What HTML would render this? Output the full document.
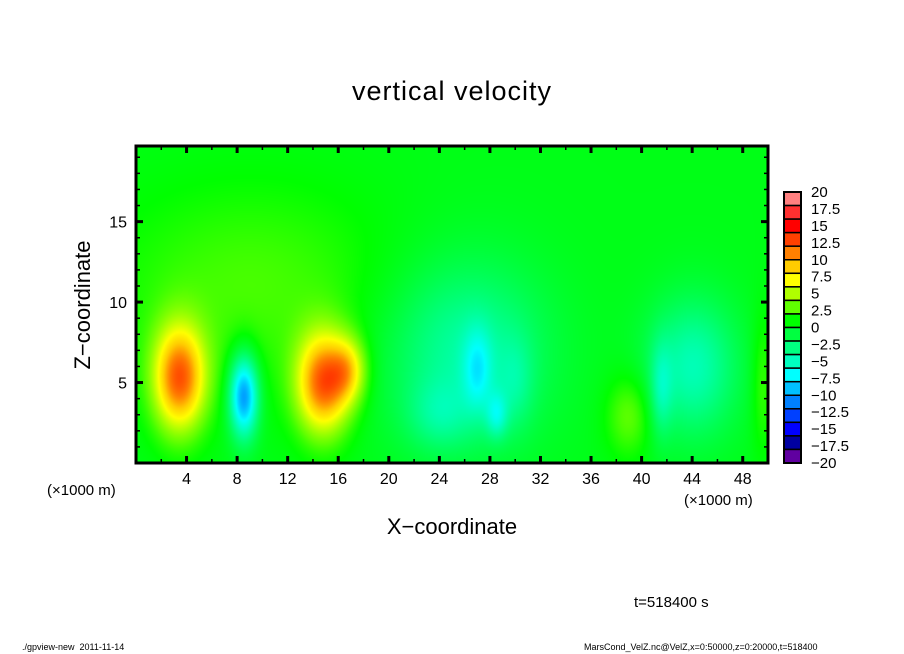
<!DOCTYPE html>
<html><head><meta charset="utf-8"><style>
body{margin:0;background:#fff;}
#wrap{position:relative;width:904px;height:654px;overflow:hidden;font-family:"Liberation Sans",sans-serif;color:#000;}
.t{position:absolute;white-space:nowrap;}
</style></head><body>
<div id="wrap">
<div class="t" style="left:0;width:904px;text-align:center;top:76px;font-size:27px;letter-spacing:1px;">vertical velocity</div>
<canvas id="fld" width="632" height="317" style="position:absolute;left:136px;top:146px;"></canvas>
<svg id="ax" width="904" height="654" style="position:absolute;left:0;top:0;"></svg>
<div class="t" style="left:0;width:904px;text-align:center;top:514px;font-size:22px;">X−coordinate</div>
<div class="t" style="left:83px;top:305px;font-size:22px;transform:translate(-50%,-50%) rotate(-90deg);">Z−coordinate</div>
<div class="t" style="left:47px;top:482px;font-size:15px;">(×1000 m)</div>
<div class="t" style="left:684px;top:492px;font-size:15px;">(×1000 m)</div>
<div class="t" style="left:634px;top:594px;font-size:15px;">t=518400 s</div>
<div class="t" style="left:22px;top:642px;font-size:9px;">./gpview-new&nbsp;&nbsp;2011-11-14</div>
<div class="t" style="left:584px;top:642px;font-size:9px;">MarsCond_VelZ.nc@VelZ,x=0:50000,z=0:20000,t=518400</div>
</div>
<script>
const xTicks=[4,8,12,16,20,24,28,32,36,40,44,48];
const zTicks=[5,10,15];
const levels=[20,18,16,14,12,10,8,6,4,2,0,-2,-4,-6,-8,-10,-12,-14,-16,-18,-20];
const levelColors=["#ff8080","#ff3030","#ff0000","#ff4000","#ff8000","#ffcc00","#ffff00","#b0ff00","#60ff00","#00ff00","#00ff40","#00ff80","#00ffc0","#00ffff","#00c0ff","#0080ff","#0040ff","#0000ff","#0000a0","#6000a0"];
const cbLabels=["20","17.5","15","12.5","10","7.5","5","2.5","0","−2.5","−5","−7.5","−10","−12.5","−15","−17.5","−20"];
const baseValue=0.3;
const blobX=[3.4,8.5,14.8,16.8,9,26,27,28.5,39,44,41.5,49.5,24,30];
const blobZ=[5.3,4.2,5.0,5.8,11,7,5.8,3.0,3,6,4.5,5,3,5];
const blobAmp=[11.5,-11,11.5,5.5,2.2,-4.5,-4,-4,3,-5,-3,2,-2.5,-2];
const blobSx=[1.45,0.8,1.5,1.0,8,4.5,0.8,0.6,1.3,2.5,0.6,0.6,1.8,1.0];
const blobSz=[2.3,1.8,2.2,1.4,4.5,4,1.8,1.0,1.8,3,2,3,1.5,2];

const X0=136,X1=768,Y0=146,Y1=463,XMAX=50,ZMAX=19.7;
const sx=v=>X0+(v/XMAX)*(X1-X0);
const sy=v=>Y1-(v/ZMAX)*(Y1-Y0);
function hex(c){return [parseInt(c.substr(1,2),16),parseInt(c.substr(3,2),16),parseInt(c.substr(5,2),16)];}
const lc=levelColors.map(hex);
function color(v){
  let pos=(20-v)/2-0.5;
  if(pos<=0)return lc[0]; if(pos>=lc.length-1)return lc[lc.length-1];
  const i=Math.floor(pos),f=pos-i;
  return [0,1,2].map(k=>lc[i][k]*(1-f)+lc[i+1][k]*f);
}
function field(x,z){
  let v=baseValue;
  for(let i=0;i<blobX.length;i++){
    const dx=(x-blobX[i])/blobSx[i],dz=(z-blobZ[i])/blobSz[i];
    v+=blobAmp[i]*Math.exp(-0.5*(dx*dx+dz*dz));
  }
  return v;
}
const cv=document.getElementById('fld'),ctx=cv.getContext('2d');
const W=cv.width,H=cv.height,img=ctx.createImageData(W,H);
for(let j=0;j<H;j++){const z=(H-j)/H*ZMAX;
  for(let i=0;i<W;i++){const x=i/W*XMAX;const c=color(field(x,z));const p=(j*W+i)*4;
    img.data[p]=c[0];img.data[p+1]=c[1];img.data[p+2]=c[2];img.data[p+3]=255;}}
ctx.putImageData(img,0,0);

const svg=document.getElementById('ax'),NS='http://www.w3.org/2000/svg';
function mk(t,a,name){const e=document.createElementNS(NS,t);for(const k in a)e.setAttribute(k,a[k]);
  
  
  svg.appendChild(e);return e;}
mk('rect',{x:X0,y:Y0,width:X1-X0,height:Y1-Y0,fill:'none',stroke:'#000','stroke-width':3},'plot-frame');
for(let v=2;v<XMAX;v+=2){const maj=xTicks.includes(v),L=maj?7:4,x=sx(v);
  mk('line',{x1:x,x2:x,y1:Y1,y2:Y1-L,stroke:'#000','stroke-width':maj?3:1.5},'x-tick');
  mk('line',{x1:x,x2:x,y1:Y0,y2:Y0+L,stroke:'#000','stroke-width':maj?3:1.5},'x-tick-top');}
for(let v=1;v<ZMAX;v+=1){const maj=zTicks.includes(v),L=maj?7:4,y=sy(v);
  mk('line',{x1:X0,x2:X0+L,y1:y,y2:y,stroke:'#000','stroke-width':maj?3:1.5},'z-tick');
  mk('line',{x1:X1,x2:X1-L,y1:y,y2:y,stroke:'#000','stroke-width':maj?3:1.5},'z-tick-right');}
xTicks.forEach(v=>{const t=mk('text',{x:sx(v),y:484,'text-anchor':'middle','font-size':16,'font-family':'Liberation Sans, sans-serif'},'x-tick-label');t.textContent=v;});
zTicks.forEach(v=>{const t=mk('text',{x:127,y:sy(v)+6,'text-anchor':'end','font-size':16,'font-family':'Liberation Sans, sans-serif'},'z-tick-label');t.textContent=v;});
const CX=784,CW=17,CY0=192,CY1=463,ch=(CY1-CY0)/levelColors.length;
levelColors.forEach((c,i)=>{mk('rect',{x:CX,y:CY0+i*ch,width:CW,height:ch,fill:c,stroke:'#000','stroke-width':1.5},'colorbar-cell');});
mk('rect',{x:CX,y:CY0,width:CW,height:CY1-CY0,fill:'none',stroke:'#000','stroke-width':2},'colorbar-frame');
cbLabels.forEach((s,i)=>{const y=CY0+i*(CY1-CY0)/(cbLabels.length-1);
  const t=mk('text',{x:811,y:y+5,'font-size':15,'font-family':'Liberation Sans, sans-serif'},'colorbar-label');t.textContent=s;});
</script>
</body></html>
